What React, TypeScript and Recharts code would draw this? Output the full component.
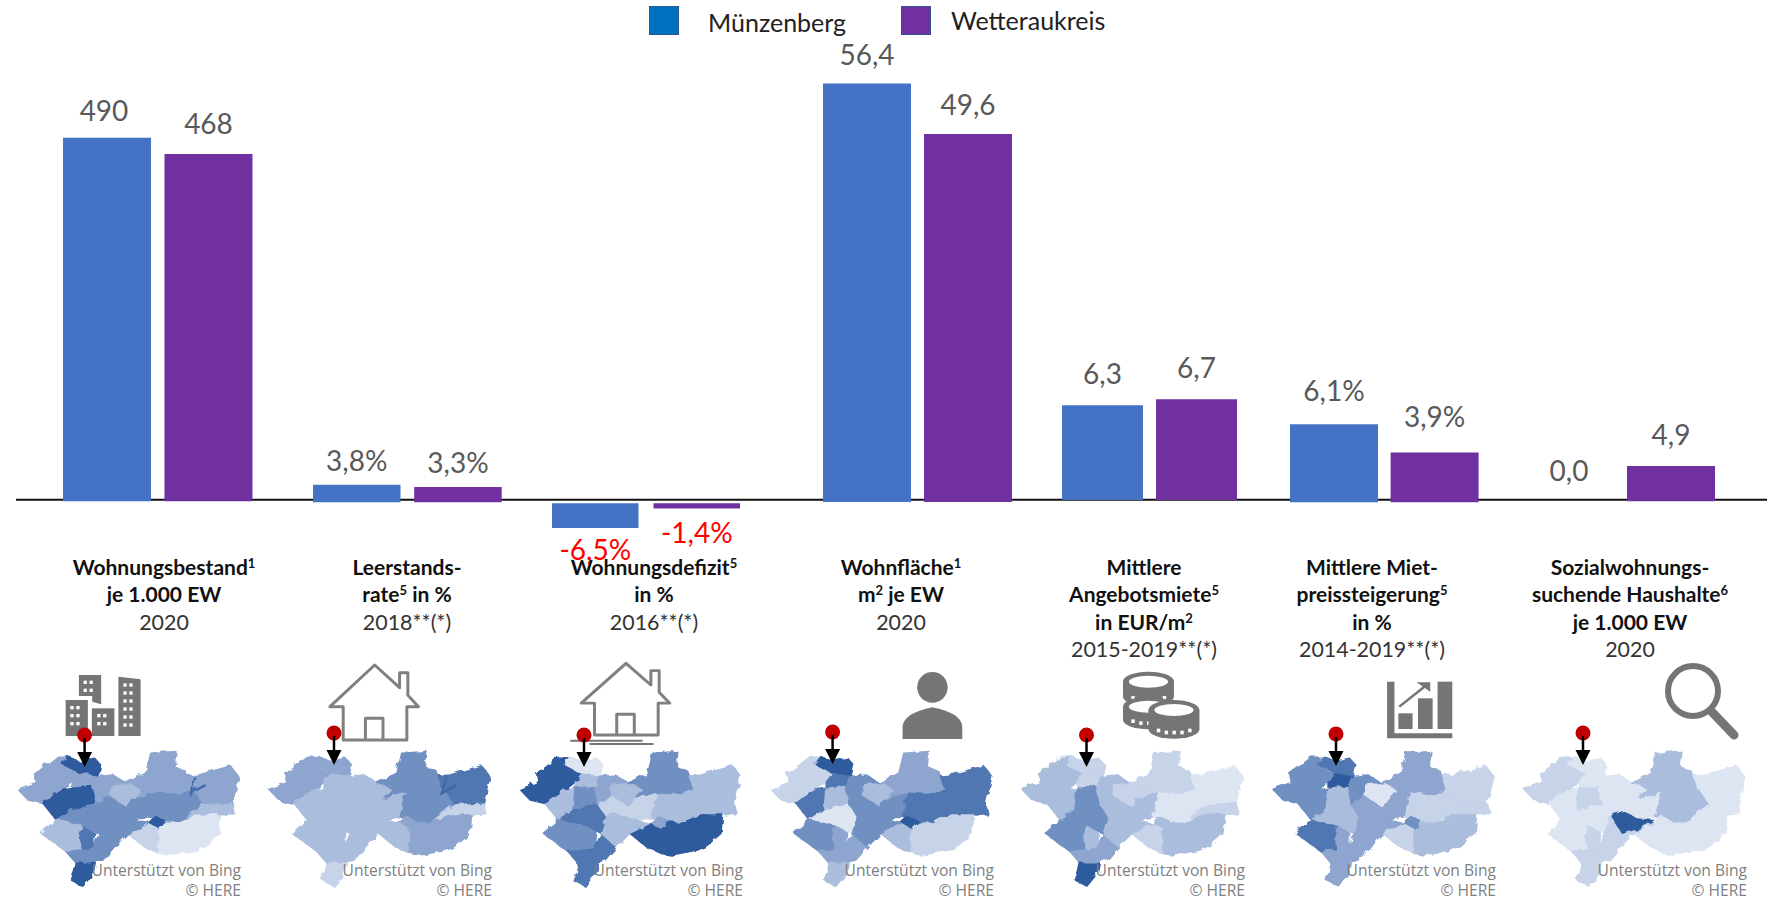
import React from 'react';
import { BarChart, Bar, XAxis, YAxis, LabelList } from 'recharts';

// ---------- data ----------
const categories = ['Wohnungsbestand', 'Leerstandsrate', 'Wohnungsdefizit', 'Wohnfläche', 'Angebotsmiete', 'Mietpreissteigerung', 'Sozialwohnungssuchende'];
const muenzenberg = [490, 3.8, -6.5, 56.4, 6.3, 6.1, 0.0];
const wetteraukreis = [468, 3.3, -1.4, 49.6, 6.7, 3.9, 4.9];
const labelsM = ['490', '3,8%', '-6,5%', '56,4', '6,3', '6,1%', '0,0'];
const labelsW = ['468', '3,3%', '-1,4%', '49,6', '6,7', '3,9%', '4,9'];
const titles = [
  ['Wohnungsbestand^1', 'je 1.000 EW'],
  ['Leerstands-', 'rate^5 in %'],
  ['Wohnungsdefizit^5', 'in %'],
  ['Wohnfläche^1', 'm^2 je EW'],
  ['Mittlere', 'Angebotsmiete^5', 'in EUR/m^2'],
  ['Mittlere Miet-', 'preissteigerung^5', 'in %'],
  ['Sozialwohnungs-', 'suchende Haushalte^6', 'je 1.000 EW'],
];
const years = ['2020', '2018**(*)', '2016**(*)', '2020', '2015-2019**(*)', '2014-2019**(*)', '2020'];
const seriesNames = ['Münzenberg', 'Wetteraukreis'];

// ---------- layout of the seven independently scaled panels ----------
const CHART_H = 600;
const CHART_W = 300;
const groupCenter = [157.75, 406.85, 646, 917, 1148.5, 1384, 1619.5];
const barWidth = [88, 87.5, 86.5, 88, 81, 88, 88];
const barGapPx = [13.5, 13.7, 15, 13, 13, 12.6, 13];
const baselineY = [501.3, 502.3, 503.3, 502, 500, 502.3, 501.3];
const pxPerUnit = [0.742, 4.6, 3.8, 7.42, 15.05, 12.8, 7.2];
const gapM = [17, 14, 32, 19, 21, 23, 20];
const gapW = [20, 14, 34, 19, 21, 25, 21];
const shiftM = [-3, 0, 0, 0, 0, 0, 0];
const titleCenter = [164, 407, 654, 901, 1144, 1372, 1630];
const pinX = [84.6, 334, 584, 832.6, 1086.5, 1336, 1583];
const pinY = [735, 733, 735, 732, 735, 734, 733];
const MAP_STEP = 251;

// ---------- choropleth decoration ----------
const shades = ['#DDE5F3', '#C6D3E9', '#ABBDDC', '#8DA5CF', '#7190C2', '#5177B2', '#2F5A9E'];
const regions = [
  '55,418 110,398 105,372 135,350 170,322 200,322 188,345 222,365 240,372 222,395 190,420 130,460 85,450',
  '188,342 205,320 240,335 285,325 303,345 295,380 240,368',
  '222,395 240,372 295,380 280,410 220,415',
  '130,460 190,420 220,415 215,480 170,510',
  '220,415 280,410 292,465 215,480',
  '170,510 215,480 292,465 315,500 300,550 250,530',
  '125,550 170,510 250,530 240,565 250,600 200,605',
  '240,565 250,530 285,550 280,595 250,600',
  '200,605 250,600 280,595 300,550 345,590 310,630 270,640 230,640',
  '230,640 290,640 285,665 250,708 215,690 225,665',
  '280,410 295,380 340,375 380,400 335,405 330,440 300,460 292,465',
  '335,405 400,400 430,420 385,475 330,440',
  '380,400 440,370 455,310 530,305 525,350 560,365 580,420 540,435 470,430 400,450 430,420 400,400',
  '580,420 565,378 600,375 695,348 720,380 715,400 700,460 610,465',
  '300,460 330,440 385,475 400,450 470,430 450,500 400,510 330,490 315,500 292,465',
  '470,430 540,435 580,420 610,465 540,520 500,520 450,500',
  '610,465 700,460 708,490 665,495 600,495 560,505',
  '445,520 470,500 500,515 480,540',
  '385,550 445,520 480,540 480,610 435,590',
  '480,540 500,520 540,520 600,495 665,495 660,550 620,585 590,600 510,615 480,610',
  '300,550 315,500 330,490 400,510 445,520 385,550 345,590',
];
const mapLevels = [
  [4, 7, 4, 7, 7, 5, 3, 6, 5, 7, 4, 3, 4, 4, 5, 5, 3, 7, 2, 1, 5],
  [4, 4, 3, 3, 3, 3, 3, 3, 3, 2, 3, 3, 5, 6, 3, 5, 2, 4, 3, 4, 3],
  [7, 1, 3, 3, 5, 6, 5, 5, 6, 6, 4, 3, 5, 3, 2, 3, 3, 4, 7, 7, 3],
  [2, 7, 6, 6, 3, 1, 5, 4, 4, 3, 5, 3, 4, 6, 5, 6, 6, 7, 3, 2, 5],
  [3, 2, 2, 3, 5, 5, 5, 3, 4, 7, 3, 2, 2, 1, 3, 1, 2, 3, 2, 3, 3],
  [5, 6, 7, 5, 3, 3, 6, 4, 4, 4, 5, 1, 4, 2, 4, 2, 2, 5, 2, 3, 4],
  [2, 1, 1, 1, 2, 1, 1, 2, 2, 2, 1, 1, 3, 1, 1, 3, 1, 1, 1, 1, 2],
];
const lastMapHighlight = '318,495 355,482 395,505 450,510 405,535 350,552 330,522';

const FONT = 'Lato, Carlito, sans-serif';
const BLUE = '#4472C4';
const PURPLE = '#7030A0';
const ICON = '#757575';

function ValueText({ x, y, text }: { x: number; y: number; text: string }) {
  return (
    <text x={x} y={y} textAnchor="middle" fontFamily={FONT} fontSize={28} fill={text.startsWith('-') ? '#FF0000' : '#595959'}>
      {text}
    </text>
  );
}

function makeLabel(text: string[], gap: number[], shift: number[], i: number, withZeroSibling: boolean) {
  return (p: any) => {
    const h = Number(p.height) || 0;
    const y0 = Number(p.y);
    const cx = Number(p.x) + Number(p.width) / 2;
    const neg = text[i].startsWith('-');
    const top = Math.min(y0, y0 + h);
    const bottom = Math.max(y0, y0 + h);
    const zeroSibling = withZeroSibling && muenzenberg[i] === 0;
    return (
      <g>
        <ValueText x={cx + shift[i]} y={neg ? bottom + gap[i] : top - gap[i]} text={text[i]} />
        {zeroSibling ? <ValueText x={cx - barWidth[i] - barGapPx[i] - 1} y={bottom - gapM[i]} text={labelsM[i]} /> : null}
      </g>
    );
  };
}

const noShift = [0, 0, 0, 0, 0, 0, 0];

function Panel({ i }: { i: number }) {
  const row = [{ name: categories[i], m: muenzenberg[i], w: wetteraukreis[i] }];
  const dom: [number, number] = [-(CHART_H - baselineY[i]) / pxPerUnit[i], baselineY[i] / pxPerUnit[i]];
  return (
    <div style={{ position: 'absolute', left: groupCenter[i] - CHART_W / 2, top: 0, zIndex: 2 }}>
      <BarChart
        width={CHART_W}
        height={CHART_H}
        data={row}
        margin={{ top: 0, right: 0, bottom: 0, left: 0 }}
        barSize={barWidth[i]}
        barGap={barGapPx[i]}
        barCategoryGap={0}
      >
        <XAxis dataKey="name" hide />
        <YAxis hide type="number" domain={dom} allowDataOverflow />
        <Bar dataKey="m" fill={BLUE} isAnimationActive={false}>
          {muenzenberg[i] !== 0 ? <LabelList dataKey="m" content={makeLabel(labelsM, gapM, shiftM, i, false)} /> : null}
        </Bar>
        <Bar dataKey="w" fill={PURPLE} isAnimationActive={false}>
          <LabelList dataKey="w" content={makeLabel(labelsW, gapW, noShift, i, true)} />
        </Bar>
      </BarChart>
    </div>
  );
}

function TitleLine({ text, x, y, bold }: { text: string; x: number; y: number; bold: boolean }) {
  const parts = text.split('^');
  const tail = parts[1] || '';
  const sup = tail.slice(0, 1);
  const rest = tail.slice(1);
  return (
    <div
      style={{
        position: 'absolute',
        left: x - 200,
        width: 400,
        top: y - 14,
        height: 28,
        lineHeight: '28px',
        textAlign: 'center',
        fontFamily: FONT,
        fontSize: bold ? 21 : 21.4,
        fontWeight: bold ? 700 : 400,
        color: bold ? '#111111' : '#333333',
        whiteSpace: 'nowrap',
        zIndex: 3,
      }}
    >
      {parts[0]}
      {sup ? <span style={{ fontSize: 13, position: 'relative', top: -7 }}>{sup}</span> : null}
      {rest}
    </div>
  );
}

function Icons() {
  const s = ICON;
  const win = (x: number, y: number, cols: number, rows: number, dx: number, dy: number) => {
    const out: React.ReactNode[] = [];
    for (let r = 0; r < rows; r++)
      for (let c = 0; c < cols; c++)
        out.push(<rect key={`${x}-${y}-${r}-${c}`} x={x + c * dx} y={y + r * dy} width={10} height={10} fill="#fff" />);
    return out;
  };
  const house = 'M995 170 L1130 45 L1205 113 L1205 68 L1230 68 L1230 136 L1262 170 L1227 170 L1227 270 L1035 270 L1035 170 Z M1102 270 L1102 205 L1155 205 L1155 270';
  const coin = (cx: number, cy: number, h: number) => (
    <g>
      <path d={`M${cx - 52} ${cy} L${cx - 52} ${cy + h} A52 28 0 0 0 ${cx + 52} ${cy + h} L${cx + 52} ${cy} Z`} fill={s} />
      <ellipse cx={cx} cy={cy} rx={52} ry={30} fill={s} />
      <ellipse cx={cx} cy={cy} rx={40} ry={18} fill="#fff" />
      {[-32, -16, 0, 16, 32].map((d) => (
        <rect key={d} x={cx + d - 3} y={cy + h - 8 + (Math.abs(d) < 20 ? 12 : 6)} width={7} height={11} fill="#fff" />
      ))}
    </g>
  );
  return (
    <>
      {/* buildings */}
      <g transform="translate(0,650) scale(0.3316,0.3333)">
        <path d="M238 75 H305 V163 L278 155 V138 H238 Z" fill={s} />
        {win(252, 92, 2, 2, 18, 24)}
        <rect x={198} y={150} width={67} height={108} fill={s} />
        {win(212, 168, 2, 3, 18, 24)}
        <rect x={277} y={175} width={68} height={83} fill={s} />
        {win(293, 192, 2, 2, 18, 24)}
        <path d="M357 80 L424 88 V258 H357 Z" fill={s} />
        {win(372, 100, 2, 6, 18, 24)}
      </g>
      {/* houses */}
      <g transform="translate(0,650) scale(0.3316,0.3333)">
        <path d={house} fill="none" stroke="#808080" strokeWidth={9} strokeLinejoin="round" />
      </g>
      <g transform="translate(251.3,649) scale(0.3316,0.3185)">
        <path d={house} fill="none" stroke="#808080" strokeWidth={9} strokeLinejoin="round" />
      </g>
      <g transform="translate(500,650) scale(0.3316,0.3333)">
        <path d="M212 272 H430 M270 282 H463" stroke={s} strokeWidth={6} fill="none" />
      </g>
      {/* person */}
      <g transform="translate(502,650) scale(0.3316,0.3333)">
        <ellipse cx={1298} cy={112} rx={46} ry={46} fill={s} />
        <path d="M1208 267 V228 Q1215 188 1298 172 Q1382 188 1388 228 V267 Z" fill={s} />
      </g>
      {/* coins */}
      <g transform="translate(1000,650) scale(0.49,0.3333)">
        {coin(303, 95, 45)}
        {coin(303, 170, 40)}
        {coin(355, 180, 58)}
      </g>
      {/* growth chart */}
      <g transform="translate(1000,650) scale(0.49,0.3333)">
        <path d="M790 95 H805 V250 H923 V265 H790 Z" fill={s} />
        <rect x={813} y={190} width={29} height={47} fill={s} />
        <rect x={853} y={145} width={30} height={92} fill={s} />
        <rect x={893} y={95} width={30} height={142} fill={s} />
        <path d="M815 170 L868 108" stroke={s} strokeWidth={6} fill="none" />
        <path d="M850 97 H878 V125 Z" fill={s} />
      </g>
      {/* magnifier */}
      <circle cx={1693} cy={691} r={25} fill="none" stroke={s} strokeWidth={6} />
      <path d="M1712 712 L1734 735" stroke={s} strokeWidth={9} strokeLinecap="round" />
    </>
  );
}

export default function App() {
  return (
    <div style={{ position: 'absolute', left: 0, top: 0, width: 1769, height: 908, background: '#fff', overflow: 'hidden' }}>
      {/* axis line under the bars */}
      <svg width={1769} height={908} style={{ position: 'absolute', left: 0, top: 0, zIndex: 1 }}>
        <line x1={16} x2={1767} y1={499.8} y2={499.8} stroke="#111" strokeWidth={2} />
      </svg>

      {categories.map((_, i) => (
        <Panel key={i} i={i} />
      ))}

      {/* legend */}
      <div style={{ position: 'absolute', left: 649, top: 6, width: 28, height: 27, background: '#0070C0', border: '1px solid #2F5597', zIndex: 3 }} />
      <div style={{ position: 'absolute', left: 901, top: 6, width: 28, height: 27, background: PURPLE, border: '1px solid #2F5597', zIndex: 3 }} />
      <div style={{ position: 'absolute', left: 708, top: 6, lineHeight: '32px', fontFamily: FONT, fontSize: 25, color: '#222', zIndex: 3 }}>{seriesNames[0]}</div>
      <div style={{ position: 'absolute', left: 951, top: 4, lineHeight: '32px', fontFamily: FONT, fontSize: 25, color: '#222', zIndex: 3 }}>{seriesNames[1]}</div>

      {/* titles */}
      {titles.map((lines, i) => (
        <React.Fragment key={i}>
          {lines.map((t, j) => (
            <TitleLine key={j} text={t} x={titleCenter[i]} y={566.5 + j * 27.5} bold />
          ))}
          <TitleLine text={years[i]} x={titleCenter[i]} y={566.5 + lines.length * 27.5} bold={false} />
        </React.Fragment>
      ))}

      {/* maps, icons, pins */}
      <svg width={1769} height={908} style={{ position: 'absolute', left: 0, top: 0, zIndex: 2 }}>
        <defs>
          <filter id="wob" x="-5%" y="-5%" width="110%" height="110%">
            <feTurbulence type="fractalNoise" baseFrequency="0.12" numOctaves={2} seed={4} result="n" />
            <feDisplacementMap in="SourceGraphic" in2="n" scale={6} />
            <feGaussianBlur stdDeviation={0.35} />
          </filter>
        </defs>
        {mapLevels.map((lv, k) => (
          <g key={k} filter="url(#wob)">
            <g transform={`translate(${k * MAP_STEP},650) scale(0.3316,0.3333)`}>
              {regions.map((pts, r) => (
                <polygon key={r} points={pts} fill={shades[lv[r] - 1]} stroke={shades[lv[r] - 1]} strokeWidth={5} strokeLinejoin="round" />
              ))}
              {k === 6 ? <polygon points={lastMapHighlight} fill={shades[6]} /> : null}
              {k < 2 ? <path d="M590 380 L575 430 L620 405" fill="none" stroke="#3F68A8" strokeWidth={7} /> : null}
            </g>
          </g>
        ))}
        <Icons />
        {pinX.map((x, k) => (
          <g key={k}>
            <circle cx={x} cy={pinY[k]} r={7.5} fill="#C00000" />
            <line x1={x} x2={x} y1={pinY[k] + 3} y2={pinY[k] + 20} stroke="#000" strokeWidth={2.5} />
            <path d={`M${x - 7.5} ${pinY[k] + 17} H${x + 7.5} L${x} ${pinY[k] + 32} Z`} fill="#000" />
          </g>
        ))}
        {mapLevels.map((_, k) => (
          <g key={k} fontFamily="'Open Sans', sans-serif" fontSize={15.6} fill="#808080" textAnchor="end">
            <text x={241 + k * MAP_STEP} y={876}>Unterstützt von Bing</text>
            <text x={241 + k * MAP_STEP} y={896}>© HERE</text>
          </g>
        ))}
      </svg>
    </div>
  );
}
